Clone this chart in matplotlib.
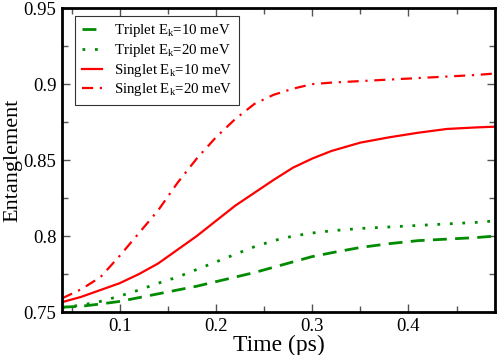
import numpy as np
import matplotlib.pyplot as plt
from matplotlib.ticker import MultipleLocator

plt.rcParams['font.family'] = ['Liberation Serif', 'DejaVu Serif']
plt.rcParams['mathtext.fontset'] = 'custom'
plt.rcParams['mathtext.rm'] = 'Liberation Serif'
plt.rcParams['mathtext.it'] = 'Liberation Serif:italic'

time = [0.04, 0.06, 0.08, 0.10, 0.12, 0.14, 0.16, 0.18, 0.20, 0.22, 0.24,
        0.26, 0.28, 0.30, 0.32, 0.35, 0.38, 0.41, 0.44, 0.47, 0.49]
triplet_10 = [0.7532, 0.7538, 0.7553, 0.757, 0.7595, 0.762, 0.7645, 0.767, 0.770, 0.773, 0.776,
              0.7795, 0.783, 0.7865, 0.789, 0.7925, 0.795, 0.797, 0.798, 0.799, 0.800]
triplet_20 = [0.753, 0.7545, 0.757, 0.7605, 0.7645, 0.769, 0.773, 0.778, 0.783, 0.788, 0.793,
              0.797, 0.800, 0.802, 0.8035, 0.805, 0.806, 0.807, 0.808, 0.809, 0.810]
singlet_10 = [0.7565, 0.760, 0.7645, 0.769, 0.775, 0.782, 0.791, 0.800, 0.810, 0.820, 0.8285,
              0.837, 0.845, 0.851, 0.856, 0.8615, 0.865, 0.868, 0.8705, 0.8715, 0.872]
singlet_20 = [0.759, 0.765, 0.773, 0.787, 0.802, 0.817, 0.835, 0.851, 0.865, 0.877, 0.887,
              0.893, 0.897, 0.900, 0.901, 0.902, 0.903, 0.904, 0.905, 0.906, 0.907]

green = '#008b00'
red = '#ff0000'

fig = plt.figure(figsize=(4.98, 3.55), dpi=100)
ax = fig.add_axes([0.1245, 0.121, 0.8695, 0.856])

ax.plot(time, triplet_10, color=green, lw=2, dashes=(5, 3), label=r'Triplet E$_\mathrm{k}$=10 meV')
ax.plot(time, triplet_20, color=green, lw=2, dashes=(1, 3.5), label=r'Triplet E$_\mathrm{k}$=20 meV')
ax.plot(time, singlet_10, color=red, lw=1.6, label=r'Singlet E$_\mathrm{k}$=10 meV')
ax.plot(time, singlet_20, color=red, lw=1.6, dashes=(5, 3, 1, 3), label=r'Singlet E$_\mathrm{k}$=20 meV')

ax.set_xlim(0.04, 0.49)
ax.set_ylim(0.75, 0.95)
ax.xaxis.set_minor_locator(MultipleLocator(0.05))
ax.yaxis.set_minor_locator(MultipleLocator(0.025))
ax.set_xticks([0.1, 0.2, 0.3, 0.4])
ax.set_xticklabels(['0.1', '0.2', '0.3', '0.4'])
ax.set_yticks([0.75, 0.8, 0.85, 0.9, 0.95])
ax.set_yticklabels(['0.75', '0.8', '0.85', '0.9', '0.95'])
ax.tick_params(which='both', direction='in', top=True, right=True, labelsize=13.5, color='#555555')
ax.tick_params(which='major', length=6, width=1, pad=4)
ax.tick_params(which='minor', length=4, width=1)
for s in ax.spines.values():
    s.set_linewidth(2)

ax.set_xlabel('Time (ps)', fontsize=17, labelpad=0)
ax.set_ylabel('Entanglement', fontsize=16, labelpad=1)

leg = ax.legend(loc='upper left', bbox_to_anchor=(0.03, 0.975), fontsize=10.7, frameon=True,
                fancybox=False, edgecolor='black', handlelength=1.4, handletextpad=0.8,
                borderpad=0.45, labelspacing=0.18, borderaxespad=0)
leg.get_frame().set_linewidth(0.8)

fig.savefig('out.png', dpi=100)
